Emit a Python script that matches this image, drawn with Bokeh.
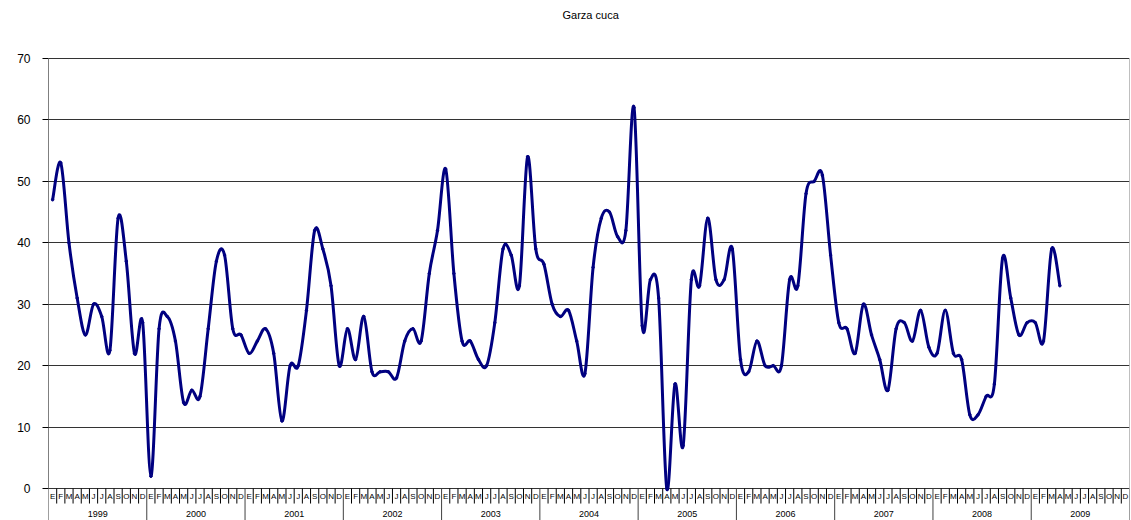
from bokeh.plotting import figure
from bokeh.models import Range1d, FixedTicker
from bokeh.core.properties import value
from bokeh.embed import file_html
from bokeh.resources import INLINE

years = ["1999", "2000", "2001", "2002", "2003", "2004", "2005", "2006", "2007", "2008", "2009"]
month_letters = ["E", "F", "M", "A", "M", "J", "J", "A", "S", "O", "N", "D"]
y_ticks = [0, 10, 20, 30, 40, 50, 60, 70]
chart_title = "Garza cuca"

v1999 = [47, 53, 40, 31, 25, 30, 28, 22.5, 44, 37, 22, 27]
v2000 = [2, 26, 28, 24, 14, 16, 15, 26, 37, 38, 26, 25]
v2001 = [22, 24, 26, 22, 11, 20, 20, 29, 42, 39, 33, 20]
v2002 = [26, 21, 28, 19, 19, 19, 18, 24, 26, 24, 35, 42]
v2003 = [52, 35, 24, 24, 21, 20, 27, 39, 38, 33, 54, 39]
v2004 = [36.5, 30, 28, 29, 24, 18.7, 36, 44, 45, 41, 42, 62]
v2005 = [26.5, 34, 31, 0, 17, 7, 34, 33, 44, 34, 34, 39]
v2006 = [21, 19, 24, 20, 20, 20, 34, 33, 48, 50, 51, 38]
v2007 = [27, 26, 22, 30, 25, 21, 16, 26, 27, 24, 29, 23]
v2008 = [22, 29, 22, 21, 12, 12, 15, 17, 37.5, 31, 25, 27]
v2009 = [27, 24, 39, 33]

values = v1999 + v2000 + v2001 + v2002 + v2003 + v2004 + v2005 + v2006 + v2007 + v2008 + v2009
n_months = 12 * len(years)
xs = [i + 0.5 for i in range(len(values))]

FONT = "Liberation Sans"
Y_MIN, Y_TOP = -5.21, 79.44

p = figure(width=1131, height=520,
           x_range=Range1d(0, n_months), y_range=Range1d(Y_MIN, Y_TOP),
           output_backend="svg", toolbar_location=None,
           x_axis_location=None,
           min_border_left=48, min_border_right=2, min_border_top=0, min_border_bottom=0)
p.outline_line_color = None
p.background_fill_color = "white"
p.border_fill_color = "white"

# y axis (line itself drawn as a segment so it stops at 70)
p.yaxis.ticker = FixedTicker(ticks=y_ticks)
p.yaxis.major_tick_out = 6
p.yaxis.major_tick_in = 0
p.yaxis.minor_tick_line_color = None
p.yaxis.axis_line_color = None
p.yaxis.major_tick_line_color = "black"
p.yaxis.major_label_standoff = 12
p.yaxis.major_label_text_font = FONT
p.yaxis.major_label_text_font_size = "12px"
p.yaxis.major_label_text_color = "black"

p.ygrid.ticker = FixedTicker(ticks=y_ticks)
p.ygrid.grid_line_color = "black"
p.ygrid.grid_line_alpha = 0.8
p.xgrid.visible = False

# left axis line and right border of the plot area
p.segment(x0=[0], y0=[0], x1=[0], y1=[y_ticks[-1]], line_color="black", line_width=1)
p.segment(x0=[n_months], y0=[0], x1=[n_months], y1=[y_ticks[-1]], line_color="#808080", line_width=1)

# month separators and year separators below the zero line
month_seps = [i for i in range(n_months + 1) if i % 12 != 0]
year_seps = [i for i in range(0, n_months + 1, 12)]
p.segment(x0=month_seps, y0=[0] * len(month_seps), x1=month_seps, y1=[-2.45] * len(month_seps),
          line_color="black", line_width=1)
p.segment(x0=year_seps, y0=[0] * len(year_seps), x1=year_seps, y1=[Y_MIN] * len(year_seps),
          line_color="#404040", line_width=1)

# month letters
mx = [i + 0.5 for i in range(n_months)]
ml = [month_letters[i % 12] for i in range(n_months)]
p.text(x=mx, y=[-1.3] * n_months, text=ml, text_align="center", text_baseline="middle",
       text_font=value(FONT), text_font_size="8px", text_color="black")

# year labels
yx = [12 * k + 6 for k in range(len(years))]
p.text(x=yx, y=[-4.1] * len(years), text=years, text_align="center", text_baseline="middle",
       text_font=value(FONT), text_font_size="9px", text_color="black")

# title
p.text(x=[66.2], y=[77.16], text=[chart_title], text_align="center", text_baseline="middle",
       text_font=value(FONT), text_font_size="11px", text_color="black")

# series drawn as a smoothed (Catmull-Rom style) curve through the data points
n = len(values)
x0, y0, x1, y1, cx0, cy0, cx1, cy1 = [], [], [], [], [], [], [], []
for i in range(n - 1):
    xp, yp = xs[max(i - 1, 0)], values[max(i - 1, 0)]
    xa, ya = xs[i], values[i]
    xb, yb = xs[i + 1], values[i + 1]
    xn, yn = xs[min(i + 2, n - 1)], values[min(i + 2, n - 1)]
    x0.append(xa); y0.append(ya); x1.append(xb); y1.append(yb)
    cx0.append(xa + (xb - xp) / 6.0); cy0.append(ya + (yb - yp) / 6.0)
    cx1.append(xb - (xn - xa) / 6.0); cy1.append(yb - (yn - ya) / 6.0)
p.bezier(x0=x0, y0=y0, x1=x1, y1=y1, cx0=cx0, cy0=cy0, cx1=cx1, cy1=cy1,
         line_color="#000080", line_width=3)
p.scatter(xs, values, size=2.5, color="#000080")

open("out.html", "w").write(file_html(p, INLINE))
